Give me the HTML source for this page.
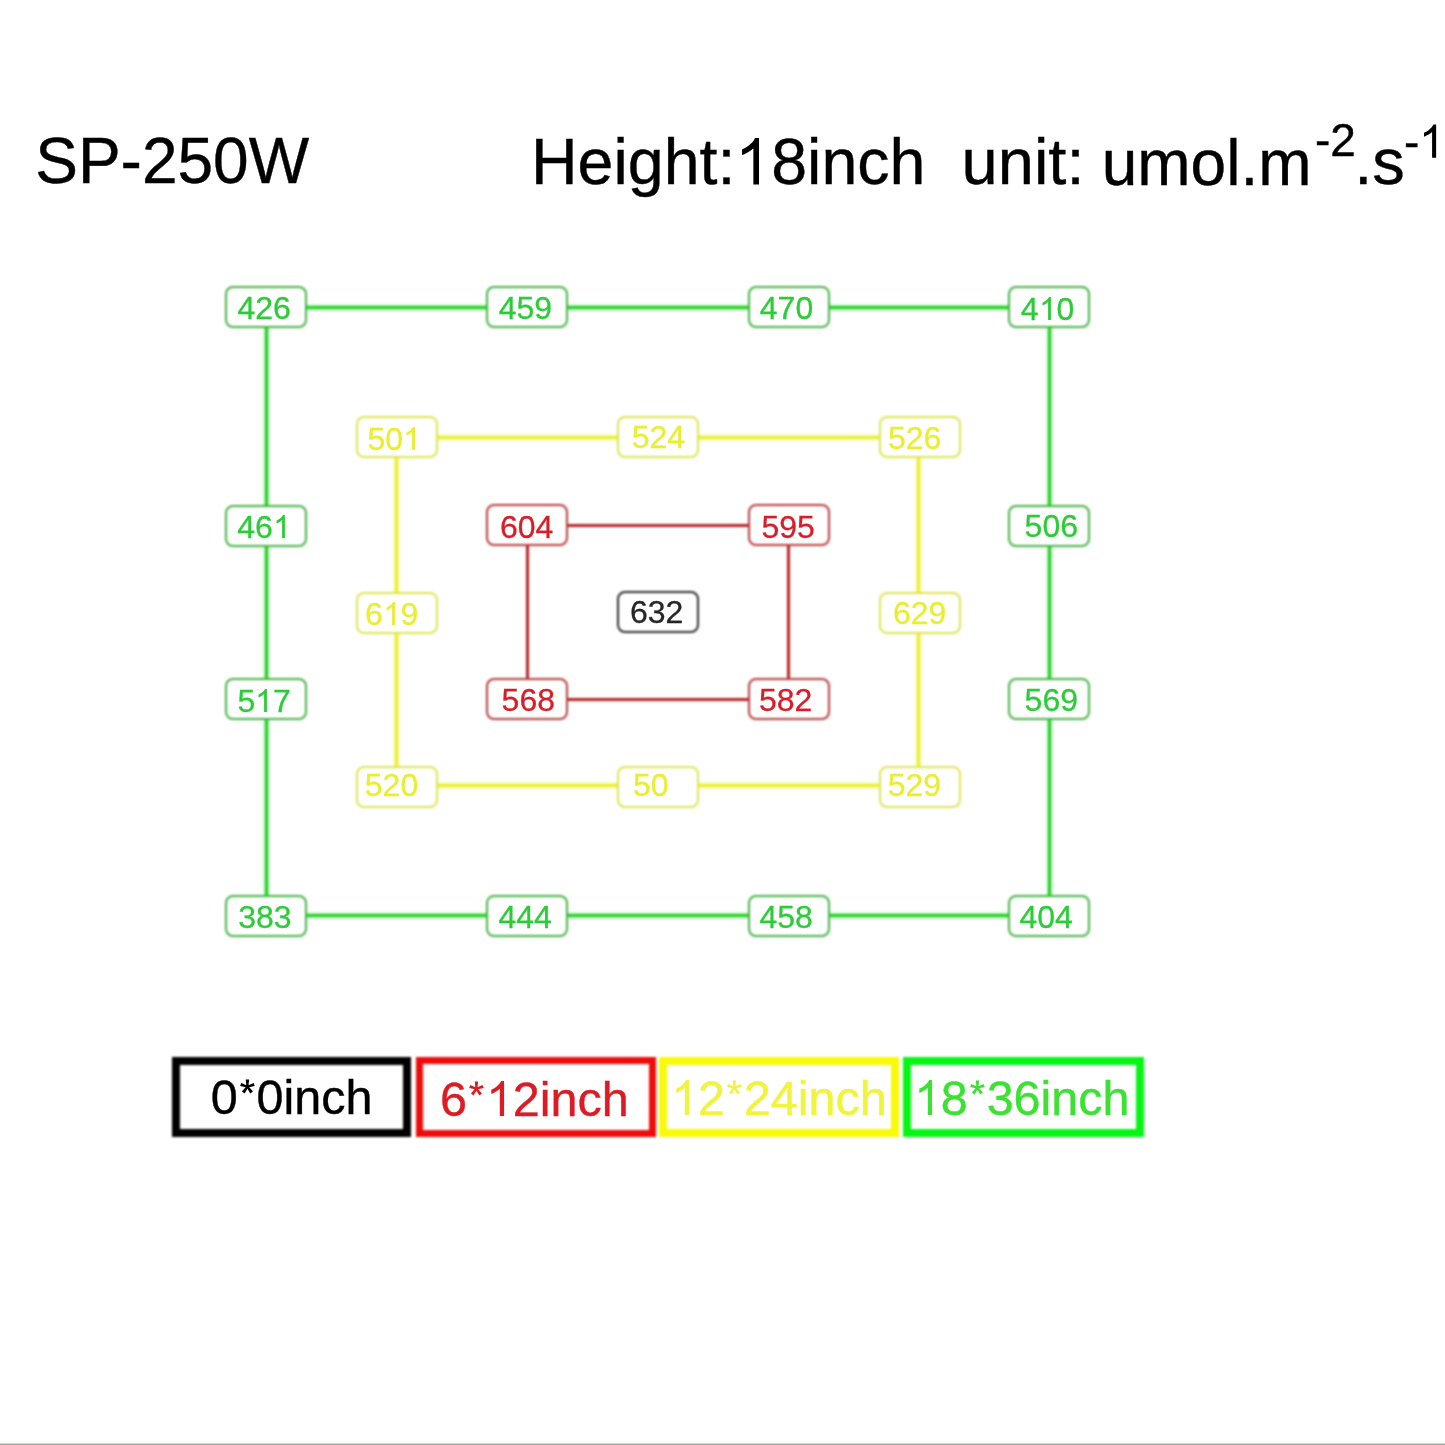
<!DOCTYPE html>
<html><head><meta charset="utf-8"><title>SP-250W</title>
<style>
html,body{margin:0;padding:0;background:#fff;}
body{width:1445px;height:1445px;position:relative;overflow:hidden;font-family:"Liberation Sans",sans-serif;}
#w{position:absolute;left:0;top:0;width:1445px;height:1445px;filter:blur(0.8px);}
#tx{position:absolute;left:0;top:0;width:1445px;height:1445px;will-change:transform;}
.l{position:absolute;}
.b{position:absolute;box-sizing:border-box;background:#fff;border-style:solid;border-width:2px;border-radius:8px;}
.t{position:absolute;font-size:32px;line-height:1;white-space:pre;-webkit-text-stroke:0.3px currentColor;}
.x{position:absolute;line-height:1;white-space:pre;-webkit-text-stroke:0.4px currentColor;}
.lg{position:absolute;box-sizing:border-box;border-style:solid;}
.bot{position:absolute;left:0;top:1444px;width:1445px;height:1px;background:#9da595;box-shadow:0 -1px 0 #d4d8ce;}
.one{position:relative;color:transparent}
.one svg{position:absolute;left:0;top:0;width:0.55615em;height:1.1172em;overflow:visible}
.ast{position:relative;color:transparent}
.ast svg{position:absolute;left:0;top:0;width:0.38965em;height:1.1172em;overflow:visible}
</style></head><body><div id="w">

<div class="l" style="left:266.4px;top:306px;width:783.0px;height:3px;background:#20d020;box-shadow:0 0 0 2px rgba(100,235,100,0.35)"></div>
<div class="l" style="left:266.4px;top:914px;width:783.0px;height:3px;background:#20d020;box-shadow:0 0 0 2px rgba(100,235,100,0.35)"></div>
<div class="l" style="left:265px;top:307px;width:3px;height:609.0px;background:#20d020;box-shadow:0 0 0 2px rgba(100,235,100,0.35)"></div>
<div class="l" style="left:1048px;top:307px;width:3px;height:609.0px;background:#20d020;box-shadow:0 0 0 2px rgba(100,235,100,0.35)"></div>
<div class="l" style="left:396.6px;top:436px;width:522.0px;height:3px;background:#eaee28;box-shadow:0 0 0 2px rgba(240,248,100,0.40)"></div>
<div class="l" style="left:396.6px;top:784px;width:522.0px;height:3px;background:#eaee28;box-shadow:0 0 0 2px rgba(240,248,100,0.40)"></div>
<div class="l" style="left:395px;top:437px;width:3px;height:348.8px;background:#eaee28;box-shadow:0 0 0 2px rgba(240,248,100,0.40)"></div>
<div class="l" style="left:917px;top:437px;width:3px;height:348.8px;background:#eaee28;box-shadow:0 0 0 2px rgba(240,248,100,0.40)"></div>
<div class="l" style="left:527.2px;top:524px;width:261.2px;height:3px;background:#b82222;box-shadow:0 0 0 2px rgba(235,150,150,0.0)"></div>
<div class="l" style="left:527.2px;top:698px;width:261.2px;height:3px;background:#b82222;box-shadow:0 0 0 2px rgba(235,150,150,0.0)"></div>
<div class="l" style="left:526px;top:525.5px;width:3px;height:174.0px;background:#b82222;box-shadow:0 0 0 2px rgba(235,150,150,0.0)"></div>
<div class="l" style="left:787px;top:525.5px;width:3px;height:174.0px;background:#b82222;box-shadow:0 0 0 2px rgba(235,150,150,0.0)"></div>
<div class="b" style="left:225px;top:286px;width:82px;height:42px;border-color:#44b244"></div>
<div class="b" style="left:486px;top:286px;width:82px;height:42px;border-color:#44b244"></div>
<div class="b" style="left:748px;top:286px;width:82px;height:42px;border-color:#44b244"></div>
<div class="b" style="left:1008px;top:286px;width:82px;height:42px;border-color:#44b244"></div>
<div class="b" style="left:225px;top:504.5px;width:82px;height:42px;border-color:#44b244"></div>
<div class="b" style="left:1008px;top:504.5px;width:82px;height:42px;border-color:#44b244"></div>
<div class="b" style="left:225px;top:678.3px;width:82px;height:42px;border-color:#44b244"></div>
<div class="b" style="left:1008px;top:678.3px;width:82px;height:42px;border-color:#44b244"></div>
<div class="b" style="left:225px;top:895.2px;width:82px;height:42px;border-color:#44b244"></div>
<div class="b" style="left:486px;top:895.2px;width:82px;height:42px;border-color:#44b244"></div>
<div class="b" style="left:748px;top:895.2px;width:82px;height:42px;border-color:#44b244"></div>
<div class="b" style="left:1008px;top:895.2px;width:82px;height:42px;border-color:#44b244"></div>
<div class="b" style="left:356.3px;top:416.3px;width:82px;height:42px;border-color:#dce452"></div>
<div class="b" style="left:617px;top:416.3px;width:82px;height:42px;border-color:#dce452"></div>
<div class="b" style="left:878.5px;top:416.3px;width:82px;height:42px;border-color:#dce452"></div>
<div class="b" style="left:356.3px;top:591.5px;width:82px;height:42px;border-color:#dce452"></div>
<div class="b" style="left:878.5px;top:591.5px;width:82px;height:42px;border-color:#dce452"></div>
<div class="b" style="left:356.3px;top:765.5px;width:82px;height:42px;border-color:#dce452"></div>
<div class="b" style="left:617px;top:765.5px;width:82px;height:42px;border-color:#dce452"></div>
<div class="b" style="left:878.5px;top:765.5px;width:82px;height:42px;border-color:#dce452"></div>
<div class="b" style="left:486.2px;top:504.3px;width:82px;height:42px;border-color:#b83a3a"></div>
<div class="b" style="left:747.6px;top:504.3px;width:82px;height:42px;border-color:#b83a3a"></div>
<div class="b" style="left:486.2px;top:678.3px;width:82px;height:42px;border-color:#b83a3a"></div>
<div class="b" style="left:747.6px;top:678.3px;width:82px;height:42px;border-color:#b83a3a"></div>
<div class="b" style="left:616.7px;top:591.3px;width:82px;height:42px;border-color:#2c2c2c"></div>
<div class="lg" style="left:172.2px;top:1056.7px;width:239.3px;height:80.1px;border-width:8px;border-color:#000"></div>
<div class="lg" style="left:416.3px;top:1056.7px;width:239.7px;height:80.1px;border-width:7.5px;border-color:#f00a0a"></div>
<div class="lg" style="left:658.5px;top:1056.7px;width:240.7px;height:80.1px;border-width:8.5px;border-color:#f8fa08"></div>
<div class="lg" style="left:902.6px;top:1056.7px;width:241.1px;height:80.1px;border-width:8.5px;border-color:#05f514"></div>
</div><div id="tx">
<div class="t" style="left:237.5px;top:292.0px;color:#2ccc38;fill:#2ccc38">426</div>
<div class="t" style="left:498.7px;top:291.6px;color:#2ccc38;fill:#2ccc38">459</div>
<div class="t" style="left:759.8px;top:291.6px;color:#2ccc38;fill:#2ccc38">470</div>
<div class="t" style="left:1020.8px;top:292.6px;color:#2ccc38;fill:#2ccc38">4<span class="one">1<svg viewBox="0 0 1139 2288"><path transform="matrix(1 0 0 -1 0 1854)" d="M763 0L583 0L583 1147Q518 1085 465 1054Q412 1023 358.5 992Q305 961 223 930L223 1104Q371 1174 426.5 1224Q482 1274 537.5 1324Q593 1374 639 1472L763 1472Z"/></svg></span>0</div>
<div class="t" style="left:237.2px;top:511.0px;color:#2ccc38;fill:#2ccc38">46<span class="one">1<svg viewBox="0 0 1139 2288"><path transform="matrix(1 0 0 -1 0 1854)" d="M763 0L583 0L583 1147Q518 1085 465 1054Q412 1023 358.5 992Q305 961 223 930L223 1104Q371 1174 426.5 1224Q482 1274 537.5 1324Q593 1374 639 1472L763 1472Z"/></svg></span></div>
<div class="t" style="left:1024.6px;top:510.0px;color:#2ccc38;fill:#2ccc38">506</div>
<div class="t" style="left:237.5px;top:685.0px;color:#2ccc38;fill:#2ccc38">5<span class="one">1<svg viewBox="0 0 1139 2288"><path transform="matrix(1 0 0 -1 0 1854)" d="M763 0L583 0L583 1147Q518 1085 465 1054Q412 1023 358.5 992Q305 961 223 930L223 1104Q371 1174 426.5 1224Q482 1274 537.5 1324Q593 1374 639 1472L763 1472Z"/></svg></span>7</div>
<div class="t" style="left:1024.6px;top:684.4px;color:#2ccc38;fill:#2ccc38">569</div>
<div class="t" style="left:238.2px;top:900.8px;color:#2ccc38;fill:#2ccc38">383</div>
<div class="t" style="left:498.4px;top:901.0px;color:#2ccc38;fill:#2ccc38">444</div>
<div class="t" style="left:759.4px;top:900.8px;color:#2ccc38;fill:#2ccc38">458</div>
<div class="t" style="left:1019.4px;top:901.0px;color:#2ccc38;fill:#2ccc38">404</div>
<div class="t" style="left:367.5px;top:423.0px;color:#eaee30;fill:#eaee30">50<span class="one">1<svg viewBox="0 0 1139 2288"><path transform="matrix(1 0 0 -1 0 1854)" d="M763 0L583 0L583 1147Q518 1085 465 1054Q412 1023 358.5 992Q305 961 223 930L223 1104Q371 1174 426.5 1224Q482 1274 537.5 1324Q593 1374 639 1472L763 1472Z"/></svg></span></div>
<div class="t" style="left:631.7px;top:420.5px;color:#eaee30;fill:#eaee30">524</div>
<div class="t" style="left:888.0px;top:422.0px;color:#eaee30;fill:#eaee30">526</div>
<div class="t" style="left:365.0px;top:597.5px;color:#eaee30;fill:#eaee30">6<span class="one">1<svg viewBox="0 0 1139 2288"><path transform="matrix(1 0 0 -1 0 1854)" d="M763 0L583 0L583 1147Q518 1085 465 1054Q412 1023 358.5 992Q305 961 223 930L223 1104Q371 1174 426.5 1224Q482 1274 537.5 1324Q593 1374 639 1472L763 1472Z"/></svg></span>9</div>
<div class="t" style="left:893.0px;top:596.5px;color:#eaee30;fill:#eaee30">629</div>
<div class="t" style="left:364.8px;top:769.4px;color:#eaee30;fill:#eaee30">520</div>
<div class="t" style="left:633.0px;top:769.4px;color:#eaee30;fill:#eaee30">50</div>
<div class="t" style="left:887.7px;top:768.7px;color:#eaee30;fill:#eaee30">529</div>
<div class="t" style="left:500.0px;top:510.8px;color:#d81c28;fill:#d81c28">604</div>
<div class="t" style="left:761.5px;top:510.8px;color:#d81c28;fill:#d81c28">595</div>
<div class="t" style="left:501.6px;top:684.4px;color:#d81c28;fill:#d81c28">568</div>
<div class="t" style="left:759.0px;top:684.4px;color:#d81c28;fill:#d81c28">582</div>
<div class="t" style="left:630.0px;top:595.7px;color:#262626;fill:#262626">632</div>
<div class="x" style="left:35.2px;top:129.2px;font-size:64px;color:#000;fill:#000">SP-250W</div>
<div class="x" style="left:531.0px;top:129.8px;font-size:64.5px;color:#000;fill:#000">Height:<span class="one">1<svg viewBox="0 0 1139 2288"><path transform="matrix(1 0 0 -1 0 1854)" d="M763 0L583 0L583 1147Q518 1085 465 1054Q412 1023 358.5 992Q305 961 223 930L223 1104Q371 1174 426.5 1224Q482 1274 537.5 1324Q593 1374 639 1472L763 1472Z"/></svg></span>8inch</div>
<div class="x" style="left:961.6px;top:129.3px;font-size:65px;color:#000;fill:#000">unit:</div>
<div class="x" style="left:1101.7px;top:131.0px;font-size:64px;color:#000;fill:#000">umol.m</div>
<div class="x" style="left:1315.0px;top:116.6px;font-size:46px;color:#000;fill:#000">-2</div>
<div class="x" style="left:1354.2px;top:128.5px;font-size:65px;color:#000;fill:#000">.s</div>
<div class="x" style="left:1404.0px;top:118.6px;font-size:46px;color:#000;fill:#000">-<span class="one">1<svg viewBox="0 0 1139 2288"><path transform="matrix(1 0 0 -1 0 1854)" d="M763 0L583 0L583 1147Q518 1085 465 1054Q412 1023 358.5 992Q305 961 223 930L223 1104Q371 1174 426.5 1224Q482 1274 537.5 1324Q593 1374 639 1472L763 1472Z"/></svg></span></div>
<div class="x" style="left:210.7px;top:1073.0px;font-size:48.5px;color:#000;fill:#000">0<span class="ast">*<svg viewBox="0 0 797 2288"><path transform="matrix(1 0 0 -1 0 1854)" d="M356 1150L328 1450L468 1450L440 1150ZM385 1190L662 1309L705 1176L411 1110ZM385 1110L91 1176L134 1309L411 1190ZM432 1175L631 948L518 866L364 1125ZM432 1125L278 866L165 948L364 1175Z"/></svg></span>0inch</div>
<div class="x" style="left:440.0px;top:1074.5px;font-size:48.5px;color:#dc1c24;fill:#dc1c24">6<span class="ast">*<svg viewBox="0 0 797 2288"><path transform="matrix(1 0 0 -1 0 1854)" d="M356 1150L328 1450L468 1450L440 1150ZM385 1190L662 1309L705 1176L411 1110ZM385 1110L91 1176L134 1309L411 1190ZM432 1175L631 948L518 866L364 1125ZM432 1125L278 866L165 948L364 1175Z"/></svg></span><span class="one">1<svg viewBox="0 0 1139 2288"><path transform="matrix(1 0 0 -1 0 1854)" d="M763 0L583 0L583 1147Q518 1085 465 1054Q412 1023 358.5 992Q305 961 223 930L223 1104Q371 1174 426.5 1224Q482 1274 537.5 1324Q593 1374 639 1472L763 1472Z"/></svg></span>2inch</div>
<div class="x" style="left:671.0px;top:1073.5px;font-size:48.5px;color:#f0f43c;fill:#f0f43c"><span class="one">1<svg viewBox="0 0 1139 2288"><path transform="matrix(1 0 0 -1 0 1854)" d="M763 0L583 0L583 1147Q518 1085 465 1054Q412 1023 358.5 992Q305 961 223 930L223 1104Q371 1174 426.5 1224Q482 1274 537.5 1324Q593 1374 639 1472L763 1472Z"/></svg></span>2<span class="ast">*<svg viewBox="0 0 797 2288"><path transform="matrix(1 0 0 -1 0 1854)" d="M356 1150L328 1450L468 1450L440 1150ZM385 1190L662 1309L705 1176L411 1110ZM385 1110L91 1176L134 1309L411 1190ZM432 1175L631 948L518 866L364 1125ZM432 1125L278 866L165 948L364 1175Z"/></svg></span>24inch</div>
<div class="x" style="left:913.8px;top:1073.5px;font-size:48.5px;color:#3ce134;fill:#3ce134"><span class="one">1<svg viewBox="0 0 1139 2288"><path transform="matrix(1 0 0 -1 0 1854)" d="M763 0L583 0L583 1147Q518 1085 465 1054Q412 1023 358.5 992Q305 961 223 930L223 1104Q371 1174 426.5 1224Q482 1274 537.5 1324Q593 1374 639 1472L763 1472Z"/></svg></span>8<span class="ast">*<svg viewBox="0 0 797 2288"><path transform="matrix(1 0 0 -1 0 1854)" d="M356 1150L328 1450L468 1450L440 1150ZM385 1190L662 1309L705 1176L411 1110ZM385 1110L91 1176L134 1309L411 1190ZM432 1175L631 948L518 866L364 1125ZM432 1125L278 866L165 948L364 1175Z"/></svg></span>36inch</div>
</div><div class="bot"></div>
</body></html>
